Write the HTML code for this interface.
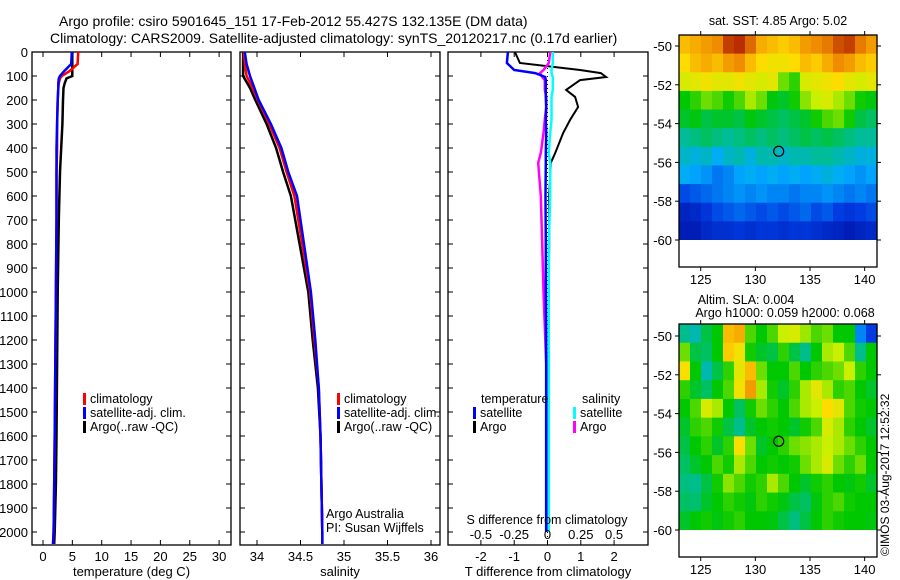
<!DOCTYPE html>
<html><head><meta charset="utf-8">
<style>
body{margin:0;background:#fff;}
svg{display:block;font-family:"Liberation Sans",sans-serif;}
text{fill:#000;}
</style></head>
<body>
<svg id="fig" width="900" height="580" viewBox="0 0 900 580" xmlns="http://www.w3.org/2000/svg">
<rect width="900" height="580" fill="#fff"/>
<text x="59" y="26" font-size="14">Argo profile: csiro 5901645_151 17-Feb-2012 55.427S 132.135E (DM data)</text>
<text x="50" y="43" font-size="14">Climatology: CARS2009. Satellite-adjusted climatology: synTS_20120217.nc (0.17d earlier)</text>
<g id="plots"></g>
<text font-size="12" transform="translate(889,556) rotate(-90)">©IMOS 03-Aug-2017 12:52:32</text>
</svg>
<script>
// ---------- profile data ----------
const tDepth = [0,50,80,100,110,130,150,200,300,400,500,700,1000,1300,1600,1800,2000,2050];
const tClim  = [6.0,5.9,4.5,3.2,2.9,2.7,2.6,2.5,2.4,2.4,2.3,2.3,2.2,2.1,2.0,1.9,1.8,1.7];
const tSat   = [4.9,4.8,3.6,2.9,2.7,2.6,2.6,2.5,2.4,2.3,2.3,2.3,2.2,2.1,2.0,1.9,1.8,1.7];
const tArgo  = [5.0,5.0,5.0,5.0,4.0,3.7,3.5,3.4,3.3,3.1,2.9,2.7,2.5,2.4,2.3,2.2,2.0,1.9];

const sDepth = [0,50,100,150,200,300,400,500,600,800,1000,1200,1400,1600,1800,2000,2050];
const sClim  = [33.85,33.86,33.88,33.95,34.01,34.14,34.26,34.34,34.43,34.52,34.61,34.66,34.71,34.73,34.74,34.75,34.75];
const sSat   = [33.86,33.88,33.92,33.97,34.02,34.16,34.28,34.36,34.46,34.54,34.62,34.67,34.71,34.73,34.74,34.75,34.75];
const sArgo  = [33.84,33.84,33.84,33.92,33.98,34.11,34.22,34.30,34.39,34.49,34.59,34.64,34.70,34.73,34.74,34.75,34.75];

const dDepth  = [0,46,75,88,104,117,158,187,229,283,337,421,462,600,800,1000,1300,1600,2000];
const dTsat   = [-1.19,-1.22,-1.0,-0.37,-0.07,-0.05,-0.05,-0.05,-0.04,-0.05,-0.04,-0.05,-0.05,-0.06,-0.05,-0.05,-0.04,-0.04,-0.04];
const dTargo  = [-0.98,-0.83,0.98,1.6,1.76,0.98,0.56,0.83,0.92,0.68,0.47,0.23,0.10,0.05,0.05,0.04,0.04,0.03,0.03];
const dSsat   = [0.04,0.04,0.03,0.03,0.04,0.04,0.04,0.03,0.03,0.03,0.02,0.01,0.02,0.02,0.01,0.01,0.01,0.01,0.01];
const dSargo  = [0.02,0.01,-0.03,-0.056,-0.04,-0.02,-0.02,-0.01,-0.01,-0.02,-0.03,-0.05,-0.07,-0.05,-0.04,-0.03,-0.01,-0.01,-0.01];

const depthTicks = [0,100,200,300,400,500,600,700,800,900,1000,1100,1200,1300,1400,1500,1600,1700,1800,1900,2000];
const tempTicks = [0,5,10,15,20,25,30];
const salTicks = [34,34.5,35,35.5,36];
const tDiffTicks = [-2,-1,0,1,2];
const sDiffTicks = [-0.5,-0.25,0,0.25,0.5];

// ---------- map data ----------
const lonTicks = [125,130,135,140];
const latTicks = [-50,-52,-54,-56,-58,-60];
const argoLon = 132.135, argoLat = -55.427;
const sstGrid = [
[.80,.82,.84,.86,.95,.97,.90,.82,.80,.78,.80,.84,.86,.88,.93,.95,.88,.84],
[.76,.80,.82,.80,.84,.86,.80,.76,.74,.74,.76,.80,.78,.82,.86,.84,.80,.78],
[.70,.72,.74,.72,.72,.74,.72,.70,.72,.62,.58,.70,.72,.74,.76,.72,.70,.72],
[.55,.58,.62,.60,.56,.60,.66,.62,.54,.52,.56,.64,.68,.70,.66,.62,.56,.54],
[.52,.54,.50,.52,.52,.50,.54,.52,.50,.48,.50,.52,.56,.60,.62,.56,.50,.48],
[.44,.46,.48,.46,.44,.46,.48,.46,.48,.46,.48,.50,.48,.50,.48,.46,.44,.44],
[.40,.38,.40,.36,.40,.42,.38,.42,.42,.40,.42,.42,.44,.44,.42,.40,.38,.38],
[.36,.34,.32,.28,.30,.34,.36,.34,.36,.34,.36,.34,.36,.38,.36,.34,.32,.34],
[.22,.24,.26,.28,.30,.32,.30,.32,.30,.30,.28,.30,.30,.32,.30,.28,.30,.28],
[.12,.14,.18,.22,.24,.26,.24,.22,.24,.22,.24,.26,.22,.24,.20,.18,.20,.22],
[.10,.10,.14,.16,.16,.18,.16,.18,.18,.16,.18,.18,.16,.14,.12,.10,.12,.14]];
const slaGrid = [
[.45,.42,.50,.55,.80,.82,.60,.55,.60,.68,.70,.65,.60,.62,.55,.55,.30,.20],
[.62,.50,.48,.55,.78,.74,.56,.52,.50,.58,.50,.45,.55,.66,.68,.60,.45,.55],
[.75,.55,.42,.50,.58,.72,.80,.62,.55,.55,.60,.55,.58,.60,.62,.68,.58,.55],
[.58,.52,.48,.55,.60,.74,.84,.66,.56,.52,.58,.66,.72,.66,.58,.60,.55,.52],
[.55,.60,.70,.66,.55,.48,.56,.62,.58,.55,.60,.66,.68,.76,.72,.60,.56,.55],
[.52,.58,.60,.56,.50,.45,.52,.55,.56,.55,.52,.56,.60,.70,.66,.58,.55,.52],
[.50,.55,.58,.52,.58,.75,.62,.52,.55,.58,.62,.64,.66,.68,.66,.62,.58,.55],
[.48,.52,.55,.60,.56,.66,.60,.55,.56,.55,.56,.62,.66,.70,.62,.58,.62,.55],
[.46,.45,.50,.56,.64,.60,.56,.58,.66,.60,.55,.52,.56,.58,.55,.54,.56,.52],
[.48,.47,.52,.55,.58,.56,.54,.58,.56,.54,.50,.48,.54,.58,.60,.56,.55,.55],
[.52,.55,.56,.54,.56,.58,.55,.55,.54,.50,.46,.50,.55,.58,.56,.55,.55,.54]];

const NS='http://www.w3.org/2000/svg';
const root=document.getElementById('plots');
function el(tag,attrs,parent){const e=document.createElementNS(NS,tag);for(const k in attrs)e.setAttribute(k,attrs[k]);(parent||root).appendChild(e);return e;}
function txt(s,x,y,size,anchor,parent){const t=el('text',{x:x,y:y,'font-size':size,'text-anchor':anchor||'start'},parent);t.textContent=s;return t;}

const TOP=52, BOT=545;
const yD=d=>TOP+d*0.24;

function panel(name,x0,x1,xs,xticks,xlabel){
  const g=el('g',{});
  
  
  const r=el('rect',{x:x0,y:TOP,width:x1-x0,height:BOT-TOP,fill:'none',stroke:'#000','stroke-width':1.3},g);
  
  
  depthTicks.forEach(d=>{
    const y=yD(d);
    el('line',{x1:x0,x2:x0+5,y1:y,y2:y,stroke:'#000'},g);
    el('line',{x1:x1-5,x2:x1,y1:y,y2:y,stroke:'#000'},g);
  });
  xticks.forEach(v=>{
    const x=xs(v);
    el('line',{x1:x,x2:x,y1:TOP,y2:TOP+5,stroke:'#000'},g);
    el('line',{x1:x,x2:x,y1:BOT-5,y2:BOT,stroke:'#000'},g);
    const t=txt(String(v),x,561,13,'middle',g);
    
    
  });
  const xl=txt(xlabel,(x0+x1)/2,576,13,'middle',g);
  
  
  return g;
}
function line(g,xs,vals,depths,color,name,w){
  const pts=vals.map((v,i)=>xs(v).toFixed(1)+','+yD(depths[i]).toFixed(1)).join(' ');
  const p=el('polyline',{points:pts,fill:'none',stroke:color,'stroke-width':w||2.5},g);
  
  
}
function legend(g,x,y,color,label,name){
  el('rect',{x:x,y:y-10,width:3,height:12,fill:color},g);
  const t=txt(label,x+7,y,12.5,'start',g);
  
  
}

depthTicks.forEach(d=>{
  const t=txt(String(d),28,yD(d)+5,13,'end');
  
  
});

const xT=v=>43+v*5.87;
const g1=panel('temperature-panel',32,231,xT,tempTicks,'temperature (deg C)');
line(g1,xT,tArgo,tDepth,'#000','argo-temperature-line');
line(g1,xT,tClim,tDepth,'#f00','climatology-temperature-line');
line(g1,xT,tSat,tDepth,'#00f','satellite-temperature-line');
legend(g1,83,403,'#f00','climatology','legend-climatology');
legend(g1,83,417,'#00f','satellite-adj. clim.','legend-satellite');
legend(g1,83,431,'#000','Argo(..raw -QC)','legend-argo');

const xS=v=>257+(v-34)*87;
const g2=panel('salinity-panel',240,440,xS,salTicks,'salinity');
line(g2,xS,sArgo,sDepth,'#000','argo-salinity-line');
line(g2,xS,sClim,sDepth,'#f00','climatology-salinity-line');
line(g2,xS,sSat,sDepth,'#00f','satellite-salinity-line');
legend(g2,337,403,'#f00','climatology','legend-climatology-2');
legend(g2,337,417,'#00f','satellite-adj. clim.','legend-satellite-2');
legend(g2,337,431,'#000','Argo(..raw -QC)','legend-argo-2');
const aa=txt('Argo Australia',326,518,12.5,'start',g2);


const pi=txt('PI: Susan Wijffels',326,532,12.5,'start',g2);



const xDT=v=>547.5+v*33.3;
const xDS=v=>547.5+v*133.2;
const g3=panel('difference-panel',448,648,xDT,tDiffTicks,'T difference from climatology');
el('line',{x1:547.5,x2:547.5,y1:TOP,y2:BOT,stroke:'#000','stroke-dasharray':'1,3'},g3);
line(g3,xDT,dTargo,dDepth,'#000','argo-t-diff-line',2);
line(g3,xDS,dSsat,dDepth,'#0ff','satellite-s-diff-line',2.5);
line(g3,xDS,dSargo,dDepth,'#f0f','argo-s-diff-line',2.5);
line(g3,xDT,dTsat,dDepth,'#00f','satellite-t-diff-line',2.5);
sDiffTicks.forEach(v=>{
  const t=txt(String(v),xDS(v),539,13,'middle',g3);
  
  
});
const st=txt('S difference from climatology',547,524,12.5,'middle',g3);


const lt=txt('temperature',481,403,12.5,'start',g3);


const ls=txt('salinity',582,403,12.5,'start',g3);


legend(g3,473,417,'#00f','satellite','legend-t-satellite');
legend(g3,473,431,'#000','Argo','legend-t-argo');
legend(g3,573,417,'#0ff','satellite','legend-s-satellite');
legend(g3,573,431,'#f0f','Argo','legend-s-argo');

const stops=[[0,[0,0,140]],[.2,[0,60,225]],[.35,[0,170,255]],[.45,[0,190,140]],[.55,[0,200,0]],[.68,[200,240,0]],[.76,[255,220,0]],[.86,[240,140,0]],[1,[170,20,0]]];
function cmap(v){
  for(let i=1;i<stops.length;i++){if(v<=stops[i][0]){const a=stops[i-1],b=stops[i];const f=(v-a[0])/(b[0]-a[0]);
    return 'rgb('+a[1].map((c,k)=>Math.round(c+(b[1][k]-c)*f)).join(',')+')';}}
  return 'rgb(170,20,0)';
}
function map(name,top,bottom,lat50y,lat60y,grid){
  const g=el('g',{});
  
  
  const x0=679,x1=877;
  const s=(lat60y-lat50y)/10;
  const xL=lon=>700.7+(lon-125)*10.93;
  const yL=lat=>lat50y+(-50-lat)*s;
  const rows=grid.length, cols=grid[0].length;
  const latTop=-50+(lat50y-top)/s;
  const lonL=125-(700.7-x0)/10.93, lonR=125+(x1-700.7)/10.93;
  const dLat=(latTop-(-60))/rows, dLon=(lonR-lonL)/cols;
  grid.forEach((row,i)=>row.forEach((v,j)=>{
    const xa=xL(lonL+j*dLon), xb=xL(lonL+(j+1)*dLon);
    const ya=yL(latTop-i*dLat), yb=yL(latTop-(i+1)*dLat);
    const c=el('rect',{x:xa.toFixed(2),y:ya.toFixed(2),width:(xb-xa+0.6).toFixed(2),height:(yb-ya+0.6).toFixed(2),fill:cmap(v)},g);
    
    
  }));
  el('rect',{x:x0,y:yL(-60),width:x1-x0,height:bottom-yL(-60),fill:'#fff'},g);
  const fr=el('rect',{x:x0,y:top,width:x1-x0,height:bottom-top,fill:'none',stroke:'#000','stroke-width':1.3},g);
  
  
  lonTicks.forEach(lon=>{
    const x=xL(lon);
    el('line',{x1:x,x2:x,y1:top-4,y2:top,stroke:'#000'},g);
    el('line',{x1:x,x2:x,y1:bottom,y2:bottom+4,stroke:'#000'},g);
    const t=txt(String(lon),x,bottom+17,13,'middle',g);
    
    
  });
  latTicks.forEach(lat=>{
    const y=yL(lat);
    el('line',{x1:x0-4,x2:x0,y1:y,y2:y,stroke:'#000'},g);
    el('line',{x1:x1,x2:x1+4,y1:y,y2:y,stroke:'#000'},g);
    const t=txt(String(lat),672,y+5,13,'end',g);
    
    
  });
  const m=el('circle',{cx:xL(argoLon),cy:yL(argoLat),r:5,fill:'none',stroke:'#000','stroke-width':1.2},g);
  
  
  return g;
}
const m1=map('sst-map',35,267,46,240,sstGrid);
const t1=txt('sat. SST: 4.85 Argo: 5.02',778,25,12.5,'middle',m1);


const m2=map('sla-map',324,557,336,530,slaGrid);
const t2=txt('Altim. SLA: 0.004',746,304,12.5,'middle',m2);


const t3=txt('Argo h1000: 0.059 h2000: 0.068',785,317,12.5,'middle',m2);


</script>
</body></html>
